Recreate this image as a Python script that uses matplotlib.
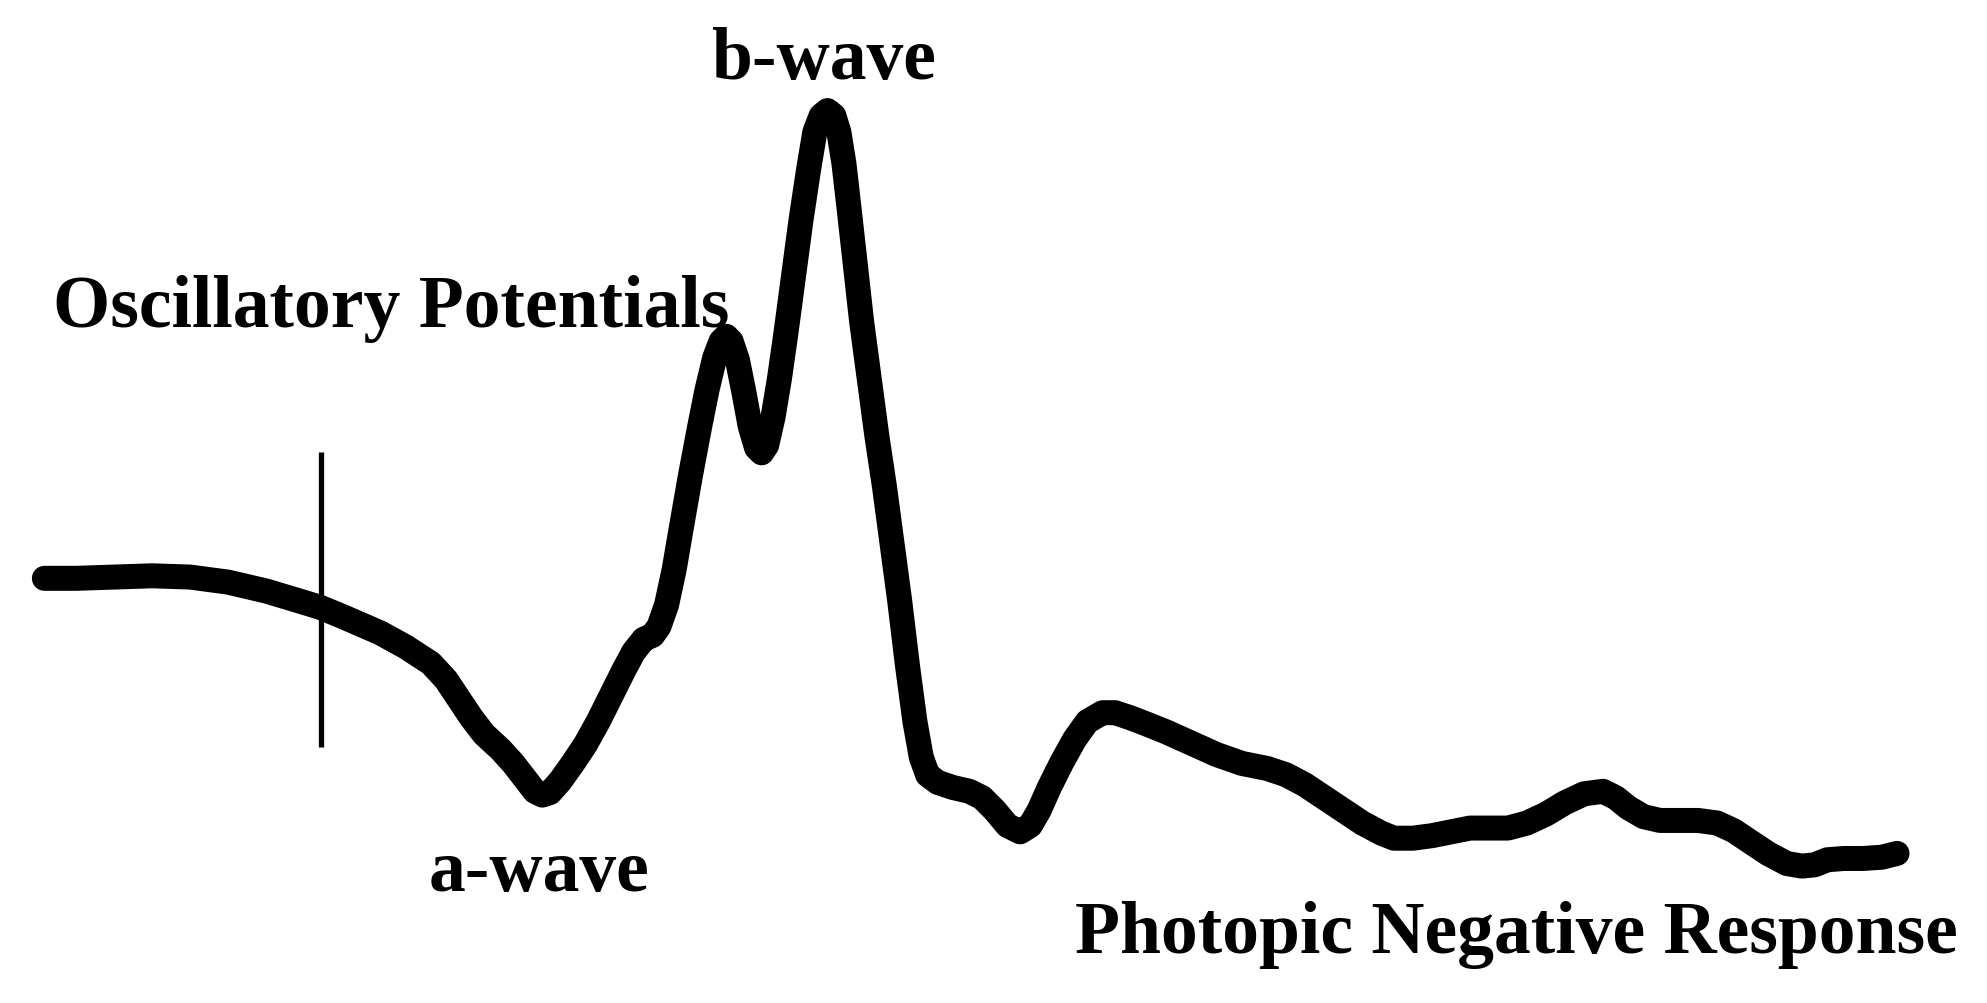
import matplotlib
matplotlib.use("Agg")
import matplotlib.pyplot as plt

# Waveform trace (time-like x, amplitude-like y in drawing units; y grows downward)
t = [35, 60, 90, 120, 150, 180, 210, 240, 253, 270, 300, 320, 340, 352, 362, 372,
     382, 395, 405, 415, 422, 428, 434, 442, 452, 462, 472, 482, 492, 500, 508, 515,
     520, 526, 532, 538, 545, 552, 558, 564, 569, 573, 577, 582, 587, 592, 597, 601,
     605, 610, 615, 620, 626, 632, 638, 643, 648, 653, 658, 662, 666, 670, 675, 680,
     686, 692, 698, 704, 710, 716, 722, 727, 732, 740, 752, 765, 775, 785, 795, 805,
     813, 820, 828, 838, 848, 858, 870, 880, 892, 905, 920, 940, 960, 980, 1000,
     1015, 1030, 1045, 1060, 1075, 1090, 1100, 1115, 1130, 1145, 1160, 1175, 1190,
     1205, 1220, 1235, 1250, 1265, 1275, 1285, 1297, 1310, 1325, 1340, 1355, 1368,
     1380, 1395, 1410, 1422, 1432, 1442, 1455, 1470, 1485, 1497]
v = [457, 457, 456, 455, 456, 460, 467, 476, 480, 487, 500, 511, 524, 537, 552, 567,
     580, 592, 603, 616, 625, 628, 626, 617, 603, 588, 570, 550, 530, 515, 505, 502,
     495, 478, 450, 415, 375, 338, 308, 283, 270, 266, 270, 285, 310, 337, 354, 358,
     352, 330, 300, 265, 220, 175, 135, 105, 92, 88, 92, 105, 130, 165, 210, 255,
     300, 345, 385, 430, 475, 525, 570, 598, 612, 618, 622, 625, 630, 640, 652, 657,
     652, 640, 622, 602, 584, 570, 563, 563, 567, 572, 578, 587, 596, 603, 607,
     612, 620, 630, 640, 650, 658, 662, 662, 660, 657, 654, 654, 654,
     650, 643, 634, 627, 625, 630, 638, 645, 648, 648, 648, 650, 656,
     664, 674, 682, 684, 683, 679, 678, 678, 677, 674]

stim_t = 253
stim_range = (357, 590)

labels = ["b-wave", "Oscillatory Potentials", "a-wave", "Photopic Negative Response"]
label_pos = [(650, 62, "center"), (42, 258, "left"), (425, 703, "center"), (848, 752, "left")]

fig = plt.figure(figsize=(19.87, 10.04), dpi=100)
ax = fig.add_axes([0, 0, 1, 1])
ax.set_xlim(0, 1568)
ax.set_ylim(792, 0)
ax.axis("off")

ax.plot(t, v, color="black", lw=18, solid_capstyle="round", solid_joinstyle="round")
ax.plot([stim_t, stim_t], list(stim_range), color="black", lw=3.8, solid_capstyle="butt")

for lab, (x, y, ha) in zip(labels, label_pos):
    ax.text(x, y, lab, ha=ha, va="baseline", fontsize=53, fontweight="bold",
            family="Liberation Serif", color="black")

fig.savefig("out.png", dpi=100, facecolor="white")
